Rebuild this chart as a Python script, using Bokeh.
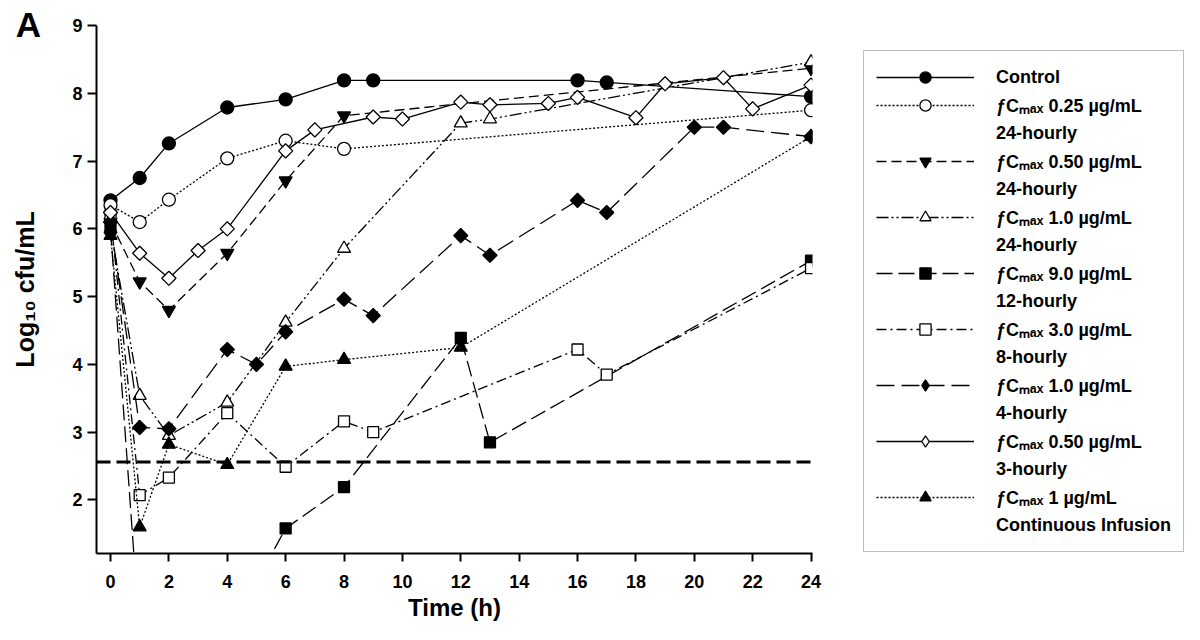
import numpy as np
from bokeh.plotting import figure
from bokeh.layouts import row
from bokeh.models import Legend, LegendItem, Span, Label, FixedTicker
from bokeh.embed import file_html
from bokeh.resources import INLINE

# ---------------- data ----------------
t_control = [0, 1, 2, 4, 6, 8, 9, 16, 17, 24]
y_control = [6.42, 6.75, 7.26, 7.79, 7.91, 8.19, 8.19, 8.19, 8.16, 7.95]

t_025_24h = [0, 1, 2, 4, 6, 8, 24]
y_025_24h = [6.35, 6.10, 6.43, 7.04, 7.30, 7.18, 7.75]

t_050_24h = [0, 1, 2, 4, 6, 8, 24]
y_050_24h = [6.10, 5.22, 4.80, 5.64, 6.71, 7.67, 8.37]

t_10_24h = [0, 1, 2, 4, 6, 8, 12, 13, 24]
y_10_24h = [6.00, 3.54, 2.95, 3.44, 4.62, 5.71, 7.56, 7.62, 8.46]

t_90_12h = [0, 1, 2, 4, 6, 8, 12, 13, 24]
y_90_12h = [6.00, 0.0, 0.0, 0.0, 1.58, 2.19, 4.39, 2.85, 5.53]

t_30_8h = [0, 1, 2, 4, 6, 8, 9, 16, 17, 24]
y_30_8h = [6.20, 2.07, 2.33, 3.28, 2.49, 3.16, 3.00, 4.22, 3.85, 5.42]

t_10_4h = [0, 1, 2, 4, 5, 6, 8, 9, 12, 13, 16, 17, 20, 21, 24]
y_10_4h = [6.10, 3.07, 3.05, 4.22, 4.00, 4.48, 4.96, 4.72, 5.90, 5.61, 6.42, 6.24, 7.50, 7.50, 7.36]

t_050_3h = [0, 1, 2, 3, 4, 6, 7, 9, 10, 12, 13, 15, 16, 18, 19, 21, 22, 24]
y_050_3h = [6.24, 5.64, 5.27, 5.68, 6.00, 7.15, 7.46, 7.65, 7.62, 7.87, 7.83, 7.85, 7.94, 7.64, 8.14, 8.23, 7.77, 8.12]

t_ci = [0, 1, 2, 4, 6, 8, 12, 24]
y_ci = [5.90, 1.60, 2.82, 2.52, 3.97, 4.07, 4.25, 7.36]

loq = 2.56  # limit of quantification (horizontal dashed line)

labels_line1 = ["Control",
                "ƒCₘₐₓ 0.25 µg/mL", "ƒCₘₐₓ 0.50 µg/mL", "ƒCₘₐₓ 1.0 µg/mL",
                "ƒCₘₐₓ 9.0 µg/mL", "ƒCₘₐₓ 3.0 µg/mL", "ƒCₘₐₓ 1.0 µg/mL",
                "ƒCₘₐₓ 0.50 µg/mL", "ƒCₘₐₓ 1 µg/mL"]
labels_line2 = [None, "24-hourly", "24-hourly", "24-hourly", "12-hourly",
                "8-hourly", "4-hourly", "3-hourly", "Continuous Infusion"]

x_ticks = list(range(0, 25, 2))
y_ticks = [2, 3, 4, 5, 6, 7, 8, 9]

# ---------------- styles ----------------
Q = np.pi / 4
styles = [
    dict(t=t_control, y=y_control, marker="circle", fill="black", dash="solid", size=13, angle=0, lmarker="circle"),
    dict(t=t_025_24h, y=y_025_24h, marker="circle", fill="white", dash="2 2", size=13, angle=0, lmarker="circle"),
    dict(t=t_050_24h, y=y_050_24h, marker="inverted_triangle", fill="black", dash="10 5", size=13, angle=0, lmarker="inverted_triangle"),
    dict(t=t_10_24h, y=y_10_24h, marker="triangle", fill="white", dash="12 3 2 3 2 3", size=13, angle=0, lmarker="triangle"),
    dict(t=t_90_12h, y=y_90_12h, marker="square", fill="black", dash="16 6", size=11, angle=0, lmarker="square"),
    dict(t=t_30_8h, y=y_30_8h, marker="square", fill="white", dash="10 4 2 4", size=11, angle=0, lmarker="square"),
    dict(t=t_10_4h, y=y_10_4h, marker="square", fill="black", dash="18 7", size=10, angle=Q, lmarker="diamond"),
    dict(t=t_050_3h, y=y_050_3h, marker="square", fill="white", dash="solid", size=10, angle=Q, lmarker="diamond"),
    dict(t=t_ci, y=y_ci, marker="triangle", fill="black", dash="2 2", size=13, angle=0, lmarker="triangle"),
]

FONT = "Liberation Sans"
H = 624
W_MAIN = 863

# ---------------- main plot ----------------
p = figure(width=W_MAIN, height=H, output_backend="svg", toolbar_location=None,
           x_range=(-0.48, 24.05), y_range=(1.21, 9.0),
           min_border_left=96, min_border_right=51, min_border_top=25, min_border_bottom=71)
p.outline_line_color = None
p.grid.visible = False
p.background_fill_color = "white"

for ax in (p.xaxis[0], p.yaxis[0]):
    ax.axis_line_width = 2
    ax.major_tick_line_width = 2
    ax.minor_tick_line_color = None
    ax.major_tick_in = 0
    ax.major_label_text_font = FONT
    ax.major_label_text_font_style = "bold"
    ax.major_label_text_font_size = "18px"
    ax.axis_label_text_font = FONT
    ax.axis_label_text_font_style = "bold"
    ax.major_label_text_color = "black"
    ax.axis_label_text_color = "black"

p.xaxis[0].ticker = FixedTicker(ticks=x_ticks)
p.xaxis[0].major_tick_out = 8
p.xaxis[0].major_label_standoff = 13
p.xaxis[0].axis_label = "Time (h)"
p.xaxis[0].axis_label_text_font_size = "24px"
p.xaxis[0].axis_label_standoff = 3

p.yaxis[0].ticker = FixedTicker(ticks=y_ticks)
p.yaxis[0].major_tick_out = 9
p.yaxis[0].major_label_standoff = 5
p.yaxis[0].axis_label = "Log₁₀ cfu/mL"
p.yaxis[0].axis_label_text_font_size = "25px"
p.yaxis[0].axis_label_standoff = 30

p.add_layout(Span(location=loq, dimension="width", line_color="black",
                  line_width=3, line_dash="14 6"))

for s in styles:
    p.line(s["t"], s["y"], line_color="black", line_width=1.3, line_dash=s["dash"])
    p.scatter(s["t"], s["y"], marker=s["marker"], size=s["size"], angle=s["angle"],
              fill_color=s["fill"], line_color="black", line_width=1.3)

# panel letter, placed with the main scales, in a side panel so it is not clipped
p.add_layout(Label(x=-3.25, y=9.016, text="A",
                   text_font=FONT, text_font_style="bold", text_font_size="35px",
                   text_baseline="alphabetic", text_color="black"), "right")

# ---------------- legend panel (same series, ranges chosen so only the legend shows) ----------------
q = figure(width=1184 - W_MAIN, height=H, output_backend="svg", toolbar_location=None,
           x_range=(100, 101), y_range=(100, 101), x_axis_location=None, y_axis_location=None,
           min_border_left=0, min_border_right=0, min_border_top=25, min_border_bottom=71)
q.outline_line_color = None
q.grid.visible = False

blank = q.line(t_control, y_control, line_alpha=0)
items = []
for s, l1, l2 in zip(styles, labels_line1, labels_line2):
    ln = q.line(s["t"], s["y"], line_color="black", line_width=1.3, line_dash=s["dash"])
    sc = q.scatter(s["t"], s["y"], marker=s["lmarker"],
                   fill_color=s["fill"], line_color="black", line_width=1.3)
    items.append(LegendItem(label=l1, renderers=[ln, sc]))
    if l2 is not None:
        items.append(LegendItem(label=l2, renderers=[blank]))

legend = Legend(items=items, location=(0, 1),
                glyph_width=98, glyph_height=28, label_height=28, spacing=0,
                padding=12, label_standoff=22, margin=0,
                label_text_font=FONT, label_text_font_style="bold",
                label_text_font_size="18px", label_text_color="black",
                border_line_color="#808080", border_line_width=1.5,
                background_fill_color="white", background_fill_alpha=1.0)
q.add_layout(legend, "center")

layout = row(p, q, spacing=0)
open("out.html", "w").write(file_html(layout, INLINE))
